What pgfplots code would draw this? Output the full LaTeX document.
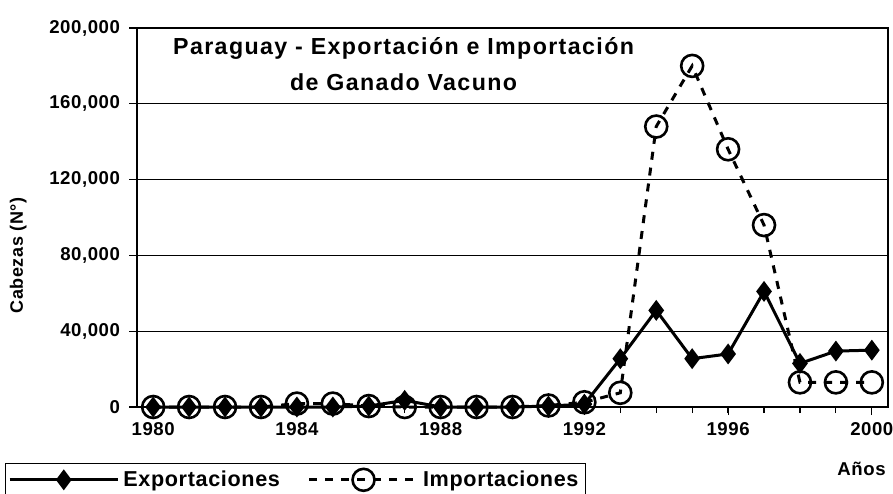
\documentclass[border=0pt]{standalone}
\usepackage{fontspec}
\setmainfont{Liberation Sans}
\newfontfamily\tfont[LetterSpace=6]{Liberation Sans}
\newfontfamily\lfont[LetterSpace=3]{Liberation Sans}
\usepackage{pgfplots}
\pgfplotsset{compat=1.18}
\begin{document}
\begin{tikzpicture}
\useasboundingbox (-68.5pt,-43pt) rectangle (378pt,203.5pt);
\begin{axis}[
  at={(0,0)}, anchor=south west,
  scale only axis, width=375.5pt, height=189.5pt,
  xmin=1979.55, xmax=2000.45, ymin=0, ymax=200000,
  xtick={1980,1984,1988,1992,1996,2000},
  xticklabels={1980,1984,1988,1992,1996,2000},
  minor xtick={1980,...,2000},
  ytick={0,40000,80000,120000,160000,200000},
  yticklabels={0,{40,000},{80,000},{120,000},{160,000},{200,000}},
  xtick pos=left, ytick pos=left,
  ymajorgrids, grid style={black, line width=0.5pt},
  tick align=outside,
  major tick length=4pt, minor tick length=3pt,
  every tick/.style={black, line width=0.6pt},
  axis line style={line width=1pt},
  scaled y ticks=false,
  tick label style={font=\lfont\bfseries\fontsize{9.3}{10}\selectfont},
  yticklabel style={xshift=-1pt},
  legend style={at={(rel axis cs:-0.176,-0.148)}, anchor=north west,
    legend columns=2, draw=black, line width=0.4pt,
    font=\lfont\bfseries\fontsize{10.8}{12}\selectfont,
    inner sep=1.5pt, /tikz/every even column/.append style={column sep=12pt}},
  legend image code/.code={
    \draw[#1, mark repeat=2, mark phase=2] plot coordinates {(0cm,0cm) (0.95cm,0cm) (1.9cm,0cm)};},
  clip=false,
]
\addplot[black, line width=1.5pt, mark=diamond*, mark size=4pt, mark options={solid, fill=black}]
coordinates {
(1980,0) (1981,0) (1982,0) (1983,0) (1984,0) (1985,0) (1986,500) (1987,3500)
(1988,0) (1989,0) (1990,0) (1991,500) (1992,1500) (1993,25500) (1994,51000)
(1995,25500) (1996,28000) (1997,61000) (1998,23000) (1999,29500) (2000,30000)
};
\addlegendentry{Exportaciones}
\addplot[black, line width=1.5pt, dash pattern=on 4pt off 4pt, mark=o, mark size=5.5pt, mark options={solid, fill=white, line width=1.3pt}]
coordinates {
(1980,0) (1981,0) (1982,0) (1983,0) (1984,1800) (1985,1800) (1986,500) (1987,0)
(1988,0) (1989,0) (1990,0) (1991,800) (1992,2500) (1993,7500) (1994,148000)
(1995,180000) (1996,136000) (1997,96000) (1998,13000) (1999,13000) (2000,13000)
};
\addlegendentry{Importaciones}
\node[align=center, font=\tfont\bfseries\fontsize{11.6}{18}\selectfont] at (rel axis cs:0.355,0.905)
  {Paraguay - Exportación e Importación\\de Ganado Vacuno};
\node[rotate=90, font=\lfont\bfseries\fontsize{9}{10}\selectfont] at (rel axis cs:-0.158,0.40) {Cabezas (N°)};
\node[anchor=east, inner sep=1pt, font=\lfont\bfseries\fontsize{9.3}{10}\selectfont] at (rel axis cs:1.0,-0.164) {Años};
\end{axis}
\end{tikzpicture}
\end{document}
